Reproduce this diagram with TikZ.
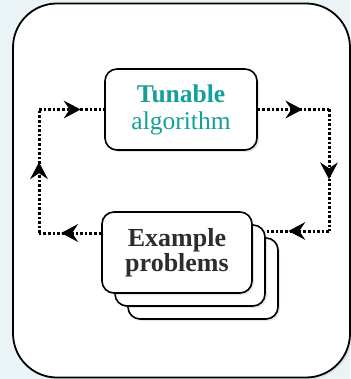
\documentclass[tikz,border=0pt]{standalone}
\usepackage{fontspec}
\setmainfont{Liberation Serif}
\usetikzlibrary{arrows.meta,positioning,decorations.markings,shadows}
\definecolor{bgblue}{RGB}{234,244,246}
\definecolor{tealtxt}{RGB}{20,160,154}
\definecolor{darktxt}{RGB}{45,45,45}
\tikzset{
  frame/.style   = {draw, line width=1.8pt, rounded corners=44pt, fill=white,
                    drop shadow={shadow xshift=2pt, shadow yshift=-2pt, opacity=.15}},
  card/.style    = {draw, line width=1.6pt, rounded corners=12pt, fill=white,
                    minimum width=150pt, minimum height=81pt, align=center,
                    font=\fontsize{26}{25}\selectfont, inner sep=2pt,
                    drop shadow={shadow xshift=2pt, shadow yshift=-2pt, opacity=.2}},
  flow/.style    = {line width=3pt, dash pattern=on 2.6pt off 2pt,
                    postaction={decorate, decoration={markings,
                      mark=at position 0.5 with {\fill (-8pt,-9pt) -- (9pt,0pt) -- (-8pt,9pt) -- (-2pt,0pt) -- cycle;}}}}
}

\begin{document}
\begin{tikzpicture}[x=1pt, y=-1pt]
\useasboundingbox[fill=bgblue] (0,0) rectangle (350,379);

% ---------------- frame ----------------
\node[frame, minimum width=337pt, minimum height=374pt] (frame) at (181.5,190.5) {};

% ---------------- example stack ----------------
\node[card] (ex3) at (203,278.5) {};
\node[card] (ex2) at (190,265.5) {};
\node[card, text=darktxt] (ex1) at (177,252.5)
      {\textbf{Example}\\ \textbf{problems}};

% ---------------- algorithm ----------------
\node[card, minimum width=152pt, text=tealtxt, font=\fontsize{25.5}{27}\selectfont] (tun) at (181,109.5)
      {\textbf{Tunable}\\ algorithm};

% ---------------- loop corners ----------------
\coordinate (tr) at (329,109.5);
\coordinate (br) at (329,231);
\coordinate (bl) at (39,233);
\coordinate (tl) at (39,109.5);

% ---------------- edges ----------------
\draw[flow] (tun.east) -- (tr);
\draw[flow] (tr) -- (br);
\draw[flow] (br) -- (br -| ex2.east);
\draw[flow] (bl -| ex1.west) -- (bl);
\draw[flow] (bl) -- (tl);
\draw[flow] (tl) -- (tun.west);

\end{tikzpicture}
\end{document}
